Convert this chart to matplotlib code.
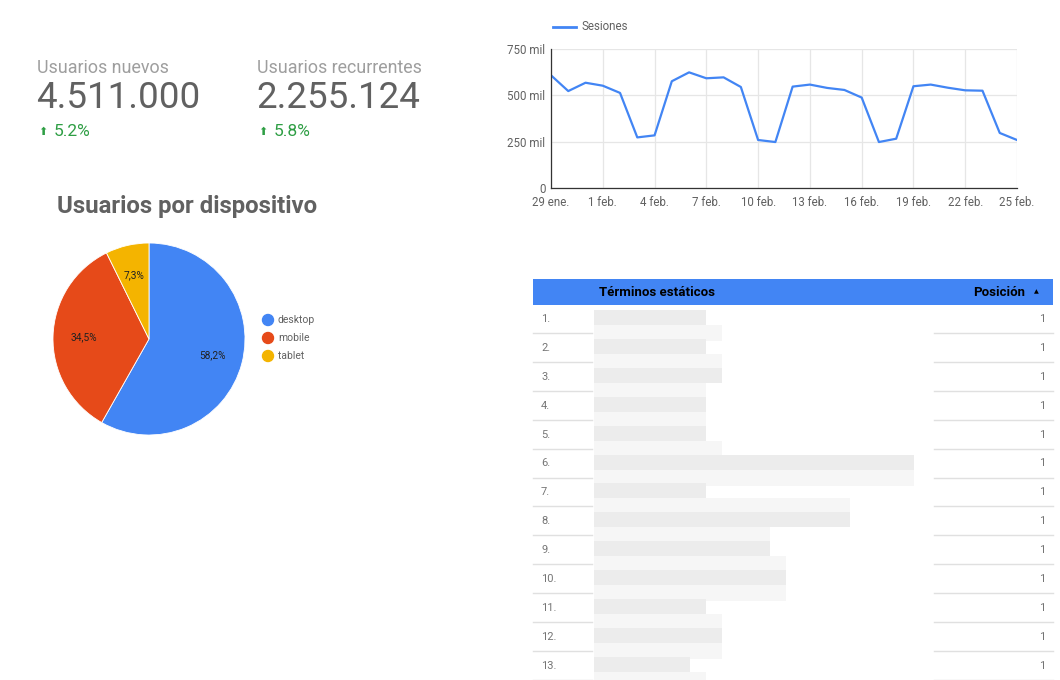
import matplotlib
matplotlib.use('Agg')
import matplotlib.pyplot as plt
from matplotlib.patches import Rectangle, Circle

plt.rcParams['font.family'] = ['Roboto', 'DejaVu Sans']

# KPI cards
kpi_labels = ['Usuarios nuevos', 'Usuarios recurrentes']
kpi_values = ['4.511.000', '2.255.124']
kpi_deltas = ['5.2%', '5.8%']

# Sessions line chart (thousands)
day_labels = ['29 ene.', '30 ene.', '31 ene.', '1 feb.', '2 feb.', '3 feb.', '4 feb.',
              '5 feb.', '6 feb.', '7 feb.', '8 feb.', '9 feb.', '10 feb.', '11 feb.',
              '12 feb.', '13 feb.', '14 feb.', '15 feb.', '16 feb.', '17 feb.', '18 feb.',
              '19 feb.', '20 feb.', '21 feb.', '22 feb.', '23 feb.', '24 feb.', '25 feb.']
sesiones = [608, 523, 568, 552, 513, 273, 284, 576, 624, 592, 597, 545, 259, 248,
            547, 558, 540, 529, 488, 248, 266, 549, 558, 541, 527, 525, 297, 259]

# Device pie
devices = ['desktop', 'mobile', 'tablet']
device_share = [58.2, 34.5, 7.3]
device_colors = ['#4285f4', '#e64a19', '#f4b400']

# Table (terms are blurred in the source, drawn as grey blocks)
positions = [1] * 13
term_cells = [7, 7, 8, 7, 7, 20, 7, 16, 11, 12, 7, 8, 6]
gap_cells = [8, 8, 7, 7, 8, 20, 16, 11, 12, 12, 8, 8, 7]

fig = plt.figure(figsize=(10.6, 6.8), dpi=100)
bg = fig.add_axes([0, 0, 1, 1])
bg.set_xlim(0, 1060)
bg.set_ylim(680, 0)
bg.axis('off')

grey_txt = '#616161'

# KPIs
for i, (lab, val, dlt) in enumerate(zip(kpi_labels, kpi_values, kpi_deltas)):
    x = 37 + i * 220
    bg.text(x, 68, lab, fontsize=12.9, color='#9e9e9e', va='center')
    bg.text(x - 1, 98, val, fontsize=26.5, color=grey_txt, va='center')
    bg.text(x + 1, 132, '\u2b06', fontsize=8, color='#2e9e44', va='center',
            family=['DejaVu Sans'])
    bg.text(x + 17, 131, dlt, fontsize=12.5, color='#2e9e44', va='center')

# pie title + legend
bg.text(57, 207, 'Usuarios por dispositivo', fontsize=17.3, fontweight='bold',
        color=grey_txt, va='center')
for i, (d, c) in enumerate(zip(devices, device_colors)):
    y = 320 + i * 18
    bg.add_patch(Circle((268, y), 5.5, color=c))
    bg.text(278, y, d, fontsize=7.5, color=grey_txt, va='center')

# table
bg.add_patch(Rectangle((533, 279), 520, 26, color='#4285f4', lw=0))
bg.text(599, 292, 'Términos estáticos', fontsize=9.5, fontweight='bold', va='center')
bg.text(1025, 292, 'Posición', fontsize=9.5, fontweight='bold', va='center', ha='right')
bg.text(1036, 292, '\u25b2', fontsize=4.5, va='center', ha='center', family=['DejaVu Sans'])
row_h = 28.9
for i, p in enumerate(positions):
    yc = 319 + i * row_h
    bg.add_patch(Rectangle((594, yc + 6), gap_cells[i] * 16, 16, color='#f6f6f6', lw=0, zorder=2))
    bg.add_patch(Rectangle((594, yc - 9), term_cells[i] * 16, 15, color='#ececec', lw=0, zorder=2))
    bg.text(541, yc, f'{i + 1}.', fontsize=8, color='#757575', va='center')
    bg.text(1045, yc, str(p), fontsize=8, color='#757575', va='center', ha='right')
    ys = yc + 14
    if ys < 680:
        bg.plot([533, 592], [ys, ys], color='#e0e0e0', lw=1, zorder=1)
        bg.plot([934, 1053], [ys, ys], color='#e0e0e0', lw=1, zorder=1)

# line chart
ax = fig.add_axes([551 / 1060, 1 - 188 / 680, 466 / 1060, 139 / 680])
x = list(range(len(sesiones)))
ax.plot(x, sesiones, color='#4285f4', lw=1.6)
ax.set_xlim(0, len(sesiones) - 1)
ax.set_ylim(0, 750)
ax.set_yticks([0, 250, 500, 750])
ax.set_yticklabels(['0', '250 mil', '500 mil', '750 mil'])
ax.set_xticks(x[::3])
ax.set_xticklabels(day_labels[::3])
ax.grid(True, color='#e6e6e6', lw=0.9)
ax.set_axisbelow(True)
ax.tick_params(length=0, labelsize=8.3, colors=grey_txt)
ax.tick_params(axis='x', pad=6)
ax.tick_params(axis='y', pad=4)
for s in ['top', 'right']:
    ax.spines[s].set_visible(False)
for s in ['left', 'bottom']:
    ax.spines[s].set_color('#333333')
    ax.spines[s].set_linewidth(0.9)
bg.plot([553, 576], [27, 27], color='#4285f4', lw=2)
bg.text(582, 27, 'Sesiones', fontsize=8.3, color=grey_txt, va='center')

# pie
axp = fig.add_axes([53 / 1060, 1 - 435 / 680, 192 / 1060, 192 / 680])
axp.pie(device_share, colors=device_colors, startangle=90, counterclock=False,
        radius=1, pctdistance=0.68,
        autopct=lambda v: f'{v:.1f}%'.replace('.', ','),
        wedgeprops=dict(linewidth=0.6, edgecolor='white'),
        textprops=dict(fontsize=7.3, color='#212121'))
axp.set_xlim(-1, 1)
axp.set_ylim(-1, 1)
axp.set_aspect('equal')

fig.savefig('out.png', dpi=100)
